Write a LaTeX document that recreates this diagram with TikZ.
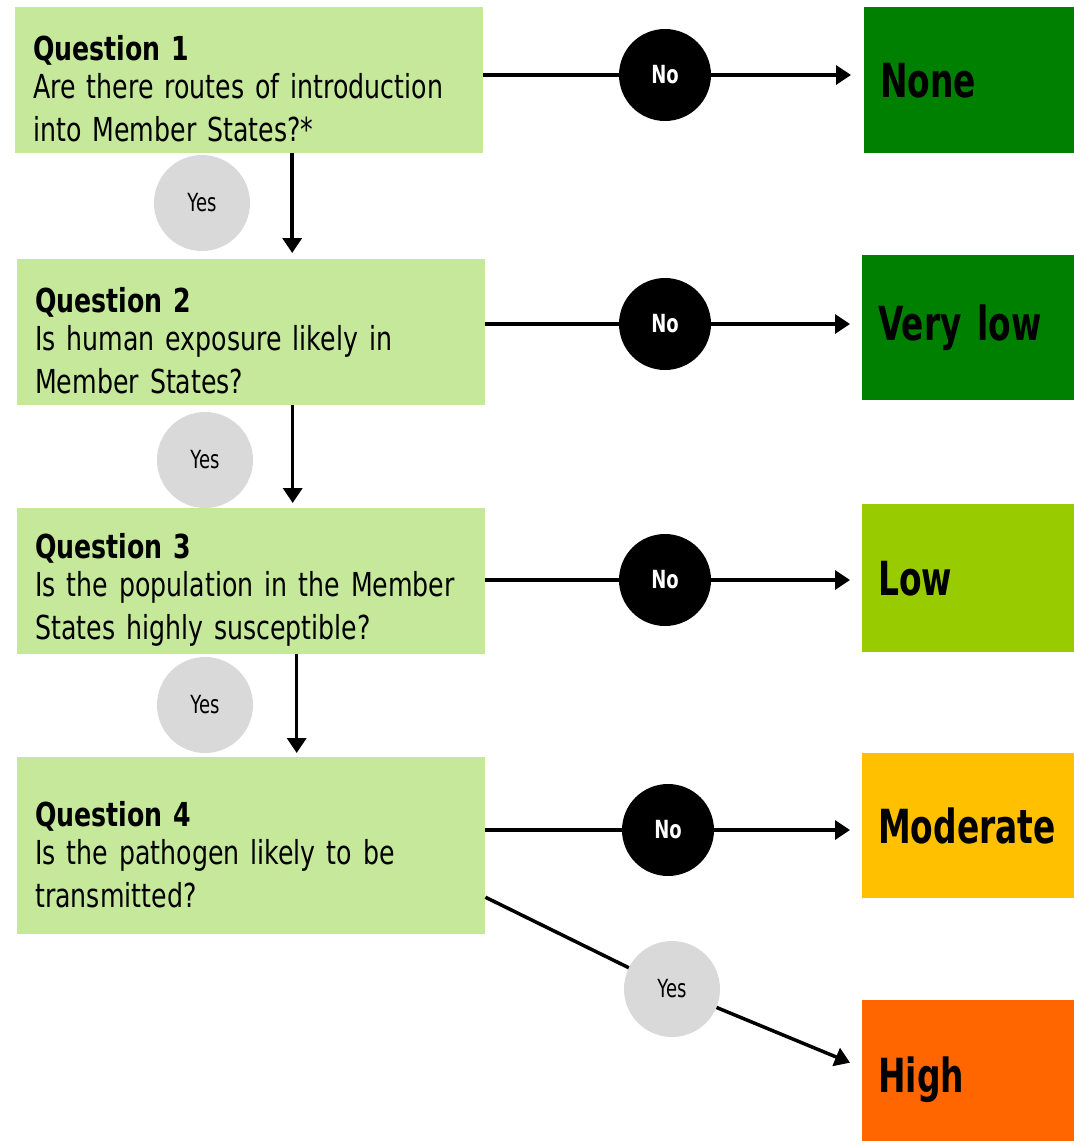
\documentclass[tikz,border=0pt]{standalone}
\usepackage{fontspec}
\setmainfont{DejaVu Sans}[FakeStretch=0.765]
\newfontfamily\resfont{DejaVu Sans}[FakeStretch=0.70]
\newfontfamily\circfont{DejaVu Sans}[FakeStretch=0.72]
\usetikzlibrary{arrows.meta}
\definecolor{qgreen}{RGB}{197,232,155}
\definecolor{rnone}{RGB}{0,128,0}
\definecolor{rlow}{RGB}{153,204,0}
\definecolor{rmod}{RGB}{255,192,0}
\definecolor{rhigh}{RGB}{255,102,0}
\definecolor{ygray}{RGB}{217,217,217}
\newcommand{\qstrut}{\rule{0pt}{43pt}}
\tikzset{
  qbox/.style={fill=qgreen, anchor=north west, minimum width=468pt, text width=432pt,
    inner xsep=18pt, inner ysep=0pt, align=left, font=\fontsize{33}{43}\selectfont},
  rbox/.style={anchor=north west, minimum width=212pt, text width=180pt, inner xsep=16pt,
    inner ysep=0pt, align=left, font=\resfont\bfseries\fontsize{47}{50}\selectfont},
  nocirc/.style={circle, fill=black, minimum size=92pt, inner sep=0pt, text=white,
    font=\circfont\bfseries\fontsize{25}{28}\selectfont},
  yescirc/.style={circle, fill=ygray, minimum size=96pt, inner sep=0pt, text=black,
    font=\circfont\fontsize{25}{28}\selectfont},
  conn/.style={line width=3.5pt, draw=black},
  arr/.style={conn, -{Triangle[length=15pt,width=19pt]}},
}
\begin{document}
\begin{tikzpicture}[x=1pt,y=-1pt]
\useasboundingbox (0,0) rectangle (1074,1141);
% question boxes
\node[qbox, minimum height=146pt] (q1) at (15,7) {\qstrut\textbf{Question 1}\\[-5pt]Are there routes of introduction\\into Member States?*};
\node[qbox, minimum height=146pt] (q2) at (17,259) {\qstrut\textbf{Question 2}\\[-5pt]Is human exposure likely in\\Member States?};
\node[qbox, minimum height=146pt] (q3) at (17,508) {\qstrut\textbf{Question 3}\\[-5pt]Is the population in the Member\\States highly susceptible?};
\node[qbox, minimum height=177pt] (q4) at (17,757) {\qstrut\textbf{Question 4}\\[-5pt]Is the pathogen likely to be\\transmitted?};
% result boxes
\node[rbox, fill=rnone, minimum width=210pt, minimum height=146pt] (r1) at (864,7) {None};
\node[rbox, fill=rnone, minimum height=145pt] (r2) at (862,255) {Very low};
\node[rbox, fill=rlow, minimum height=148pt] (r3) at (862,504) {Low};
\node[rbox, fill=rmod, minimum height=145pt] (r4) at (862,753) {Moderate};
\node[rbox, fill=rhigh, minimum height=141pt] (r5) at (862,1000) {\rule{0pt}{53pt}High};
% No circles
\node[nocirc] (n1) at (665,75) {No};
\node[nocirc] (n2) at (665,324) {No};
\node[nocirc] (n3) at (665,580) {No};
\node[nocirc] (n4) at (668,830) {No};
% Yes circles
\node[yescirc] (y1) at (202,203) {Yes};
\node[yescirc] (y2) at (205,460) {Yes};
\node[yescirc] (y3) at (205,705) {Yes};
\node[yescirc] (y4) at (672,989) {Yes};
% horizontal connectors
\draw[conn] (n1 -| q1.east) -- (n1);
\draw[arr, shorten >=13pt] (n1) -- (n1 -| r1.west);
\draw[conn] (n2 -| q2.east) -- (n2);
\draw[arr, shorten >=12pt] (n2) -- (n2 -| r2.west);
\draw[conn] (n3 -| q3.east) -- (n3);
\draw[arr, shorten >=12pt] (n3) -- (n3 -| r3.west);
\draw[conn] (n4 -| q4.east) -- (n4);
\draw[arr, shorten >=12pt] (n4) -- (n4 -| r4.west);
% vertical yes connectors
\coordinate (a1) at ([xshift=43pt]q1.south);
\coordinate (a2) at ([xshift=41.5pt]q2.south);
\coordinate (a3) at ([xshift=45.5pt]q3.south);
\draw[arr, shorten >=6pt] (a1) -- (a1 |- q2.north);
\draw[arr, shorten >=5pt] (a2) -- (a2 |- q3.north);
\draw[arr, shorten >=4pt] (a3) -- (a3 |- q4.north);
% diagonal
\coordinate (d1) at ([yshift=-51.5pt]q4.east);
\coordinate (d2) at ([xshift=-12pt,yshift=8pt]r5.west);
\draw[conn] (d1) -- (y4);
\draw[arr] (y4) -- (d2);
\end{tikzpicture}
\end{document}
